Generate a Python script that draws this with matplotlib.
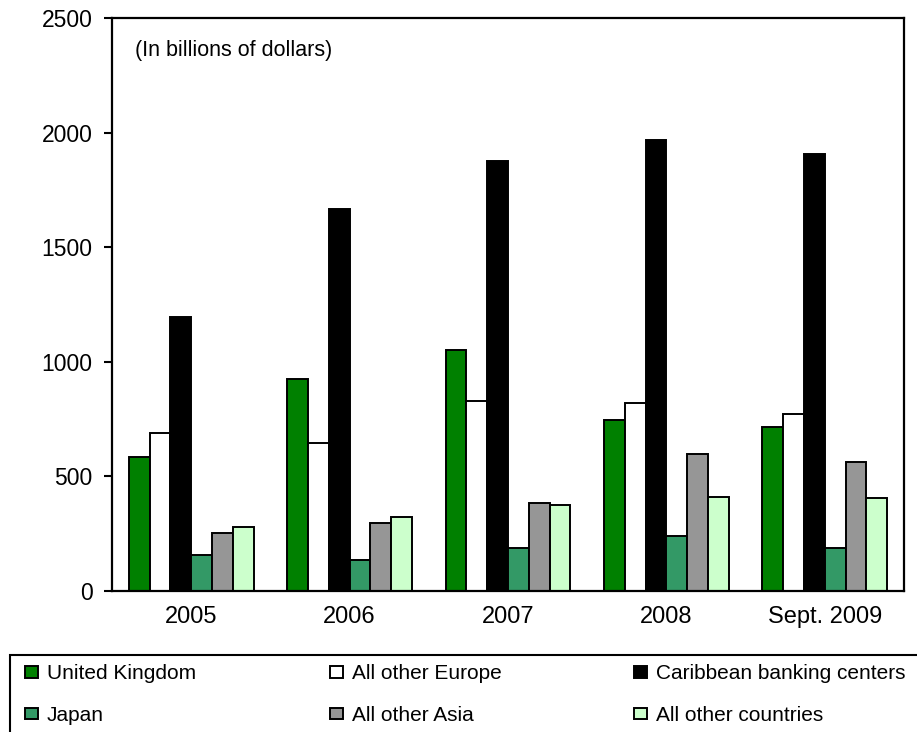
import matplotlib.pyplot as plt
import matplotlib.patches as mpatches
import numpy as np

plt.rcParams['font.family'] = ['Liberation Sans', 'DejaVu Sans']

periods = ['2005', '2006', '2007', '2008', 'Sept. 2009']
series = ['United Kingdom', 'All other Europe', 'Caribbean banking centers',
          'Japan', 'All other Asia', 'All other countries']
united_kingdom = [586, 925, 1052, 745, 717]
other_europe = [688, 647, 829, 820, 774]
caribbean = [1195, 1667, 1876, 1968, 1907]
japan = [156, 137, 188, 239, 189]
other_asia = [254, 297, 384, 599, 564]
other_countries = [281, 323, 375, 412, 406]
values = [united_kingdom, other_europe, caribbean, japan, other_asia, other_countries]
colors = ['#008000', '#ffffff', '#000000', '#339966', '#969696', '#ccffcc']

fig = plt.figure(figsize=(9.17, 7.32), dpi=100)
ax = fig.add_axes([112/917, 141/732, 792/917, 573/732])

x = np.arange(len(periods))
w = 0.1315
handles = []
for i, (vals, c) in enumerate(zip(values, colors)):
    b = ax.bar(x + (i - 2.5) * w, vals, w, color=c, edgecolor='black',
               linewidth=1.4, label=series[i])
    handles.append(b)

ax.set_xlim(-0.5, 4.5)
ax.set_ylim(0, 2500)
ax.set_yticks(range(0, 2501, 500))
ax.set_xticks(x)
ax.set_xticklabels(periods, fontsize=17)
ax.tick_params(axis='y', labelsize=16.5, length=6, width=1.5, pad=8, direction='out')
ax.tick_params(axis='x', length=0, pad=11)
for s in ax.spines.values():
    s.set_linewidth(1.6)

ax.text(0.029, 0.944, '(In billions of dollars)', transform=ax.transAxes,
        fontsize=15.5, va='center', ha='left')

# legend frame runs off the bottom and right edges
fig.patches.append(mpatches.Rectangle((10/917, -0.05), 1.0, 0.05 + 77/732,
                                      transform=fig.transFigure, fill=False,
                                      edgecolor='black', linewidth=1.5))

col_x = [25, 330, 634]
for k, cx in enumerate(col_x):
    hs = [handles[k], handles[k + 3]]
    leg = fig.legend(hs, [series[k], series[k + 3]], loc='upper left',
                     bbox_to_anchor=(cx/917, 1 - 664/732), frameon=False,
                     fontsize=15, handlelength=0.6, handleheight=0.5,
                     handletextpad=0.45, labelspacing=1.1, borderpad=0,
                     borderaxespad=0)

fig.savefig('out.png', dpi=100)
